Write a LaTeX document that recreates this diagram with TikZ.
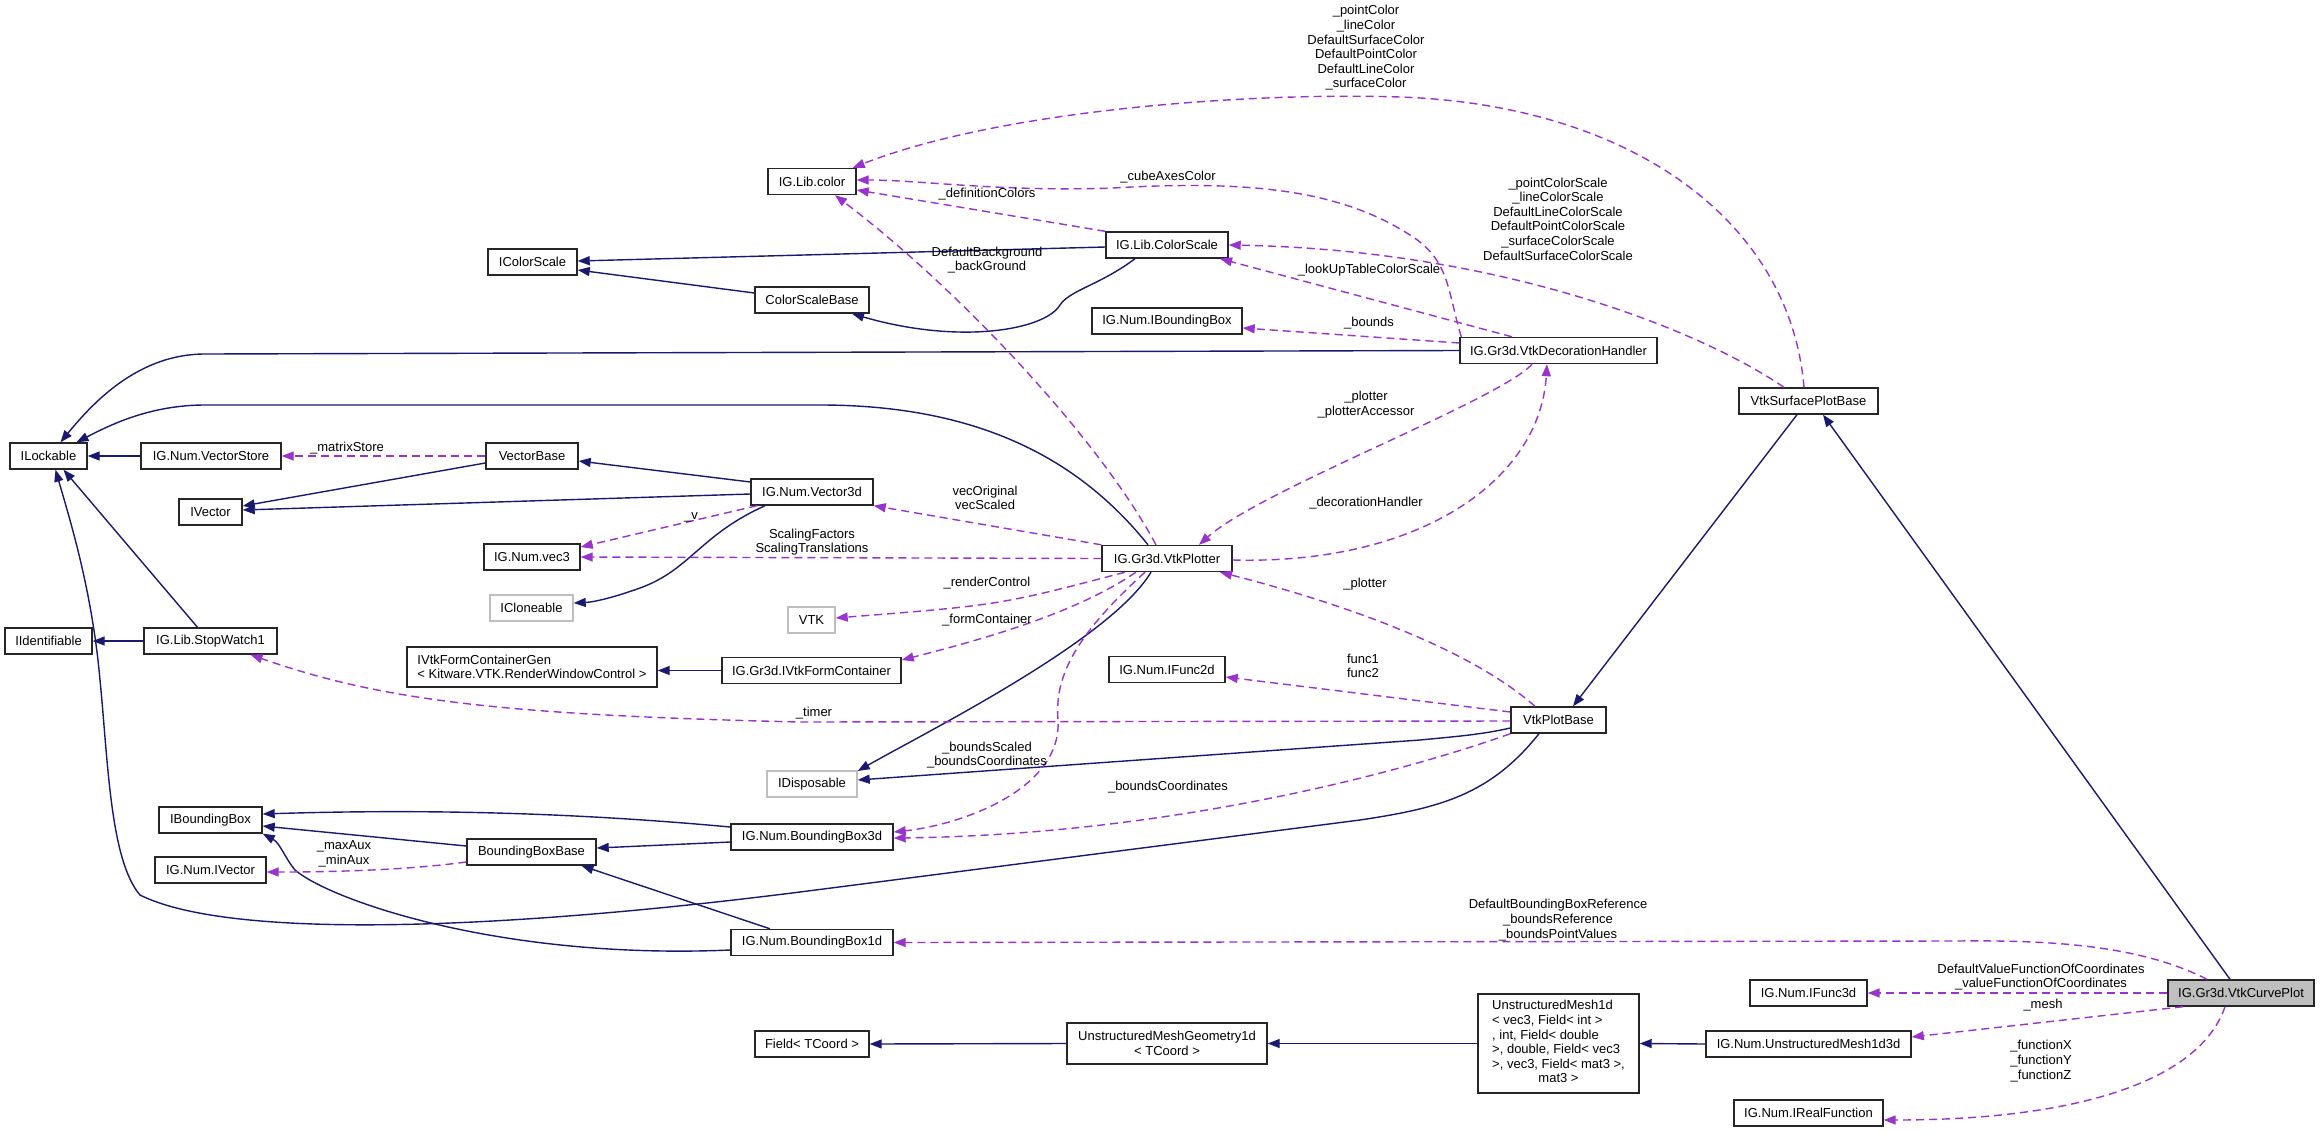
\documentclass[tikz,border=0pt]{standalone}
\usepackage{fontspec}
\setmainfont{Liberation Sans}
\usetikzlibrary{arrows.meta}
\definecolor{inhc}{HTML}{191970}
\definecolor{usec}{HTML}{9A32CD}
\definecolor{boxgray}{HTML}{BFBFBF}
\tikzset{
 cls/.style={draw=black!85, line width=1.4pt, fill=white, inner sep=0pt, minimum height=26pt, font=\fontsize{13}{14.6}\selectfont},
 ext/.style={cls, draw=boxgray},
 mainbox/.style={cls, fill=boxgray},
 inh/.style={draw=inhc, line width=1.4pt, -{Triangle[length=12pt,width=9pt]}},
 use/.style={draw=usec, line width=1.4pt, dash pattern=on 8pt off 5pt, -{Triangle[length=12pt,width=9pt]}},
 lbl/.style={font=\fontsize{13}{14.6}\selectfont, align=center, inner sep=0pt},
}
\begin{document}
\begin{tikzpicture}[x=1pt,y=-1pt]
\fill[white] (0,0) rectangle (2320,1132);
\useasboundingbox (0,0) rectangle (2320,1132);
% nodes
\node[cls, minimum width=88pt] (color) at (812,181.5) {IG.Lib.color};
\node[cls, minimum width=122pt] (cscale) at (1167,245) {IG.Lib.ColorScale};
\node[cls, minimum width=114pt] (csbase) at (812,300) {ColorScaleBase};
\node[cls, minimum width=150pt] (nibb) at (1167,321) {IG.Num.IBoundingBox};
\node[cls, minimum width=197pt] (dech) at (1558.5,350.5) {IG.Gr3d.VtkDecorationHandler};
\node[cls, minimum width=139pt] (vsurf) at (1808.5,401) {VtkSurfacePlotBase};
\node[cls, minimum width=89pt] (icscale) at (532.5,262) {IColorScale};
\node[cls, minimum width=77pt] (ilock) at (48.5,456) {ILockable};
\node[cls, minimum width=140pt] (vstore) at (211,456) {IG.Num.VectorStore};
\node[cls, minimum width=92pt] (vbase) at (532,456) {VectorBase};
\node[cls, minimum width=63pt] (ivector) at (210.5,512) {IVector};
\node[cls, minimum width=96pt] (vec3) at (532,557) {IG.Num.vec3};
\node[ext, minimum width=83pt] (iclone) at (531.5,608) {ICloneable};
\node[cls, minimum width=87pt] (iident) at (48.5,641) {IIdentifiable};
\node[cls, minimum width=133pt] (stopw) at (210.5,641) {IG.Lib.StopWatch1};
\node[cls, minimum width=250pt, minimum height=40pt, align=left] (ifcg) at (532,667) {IVtkFormContainerGen\\< Kitware.VTK.RenderWindowControl >};
\node[cls, minimum width=122pt] (vec3d) at (812,492) {IG.Num.Vector3d};
\node[cls, minimum width=130pt] (plotter) at (1167,558.5) {IG.Gr3d.VtkPlotter};
\node[ext, minimum width=47pt] (vtk) at (811.5,620) {VTK};
\node[cls, minimum width=179pt] (ifc) at (811.5,670.5) {IG.Gr3d.IVtkFormContainer};
\node[cls, minimum width=116pt] (ifunc2d) at (1167,669.5) {IG.Num.IFunc2d};
\node[cls, minimum width=95pt] (plotbase) at (1558.5,720) {VtkPlotBase};
\node[ext, minimum width=90pt] (idisp) at (812,784) {IDisposable};
\node[cls, minimum width=103pt] (ibb) at (210.5,820) {IBoundingBox};
\node[cls, minimum width=111pt] (nivec) at (210.5,870) {IG.Num.IVector};
\node[cls, minimum width=129pt] (bbbase) at (531.5,852) {BoundingBoxBase};
\node[cls, minimum width=162pt] (bb3d) at (812,837) {IG.Num.BoundingBox3d};
\node[cls, minimum width=162pt] (bb1d) at (812,942.5) {IG.Num.BoundingBox1d};
\node[cls, minimum width=114pt] (field) at (812,1044) {Field< TCoord >};
\node[cls, minimum width=200pt, minimum height=41pt, align=center] (umg) at (1167,1043.5) {UnstructuredMeshGeometry1d\\< TCoord >};
\node[cls, minimum width=161pt, minimum height=99pt] (um1d) at (1558.5,1043.5) {\begin{tabular}{@{}l@{}}UnstructuredMesh1d\\< vec3, Field< int >\\, int, Field< double\\>, double, Field< vec3\\>, vec3, Field< mat3 >,\\\multicolumn{1}{@{}c@{}}{mat3 >}\end{tabular}};
\node[cls, minimum width=205pt] (um3d) at (1808.5,1044) {IG.Num.UnstructuredMesh1d3d};
\node[cls, minimum width=117pt] (ifunc3d) at (1808.5,993) {IG.Num.IFunc3d};
\node[cls, minimum width=149pt] (ireal) at (1808.5,1113) {IG.Num.IRealFunction};
\node[mainbox, minimum width=146pt] (curve) at (2241,993) {IG.Gr3d.VtkCurvePlot};
% inheritance edges
\draw[inh] ([yshift=-2pt]cscale.west) -- ([yshift=1pt]icscale.east);
\draw[inh] ([yshift=7pt]csbase.west) -- ([yshift=-8pt]icscale.east);
\draw[inh] ([xshift=-32pt]cscale.south) .. controls (1100,285) and (1070,290) .. (1060,305) .. controls (1045,330) and (960,345) .. ([xshift=40pt]csbase.south);
\draw[inh] (dech.west) -- (205,354) .. controls (140,354) and (95,400) .. ([xshift=12pt]ilock.north);
\draw[inh] ([xshift=-19pt]plotter.north) .. controls (1080,460) and (980,405) .. (820,405) -- (205,405) .. controls (150,405) and (110,425) .. ([xshift=28pt]ilock.north);
\draw[inh] (vstore.west) -- (ilock.east);
\draw[inh] ([xshift=-13pt]stopw.north) -- ([xshift=15pt]ilock.south);
\draw[inh] ([xshift=-19.5pt]plotbase.south) .. controls (1490,795) and (1440,808) .. (1360,820) -- (800,892) .. controls (500,930) and (230,940) .. (140,895) .. controls (110,860) and (108,760) .. (100,680) .. controls (92,590) and (70,520) .. ([xshift=7pt]ilock.south);
\draw[inh] ([yshift=-7pt]vbase.west) -- ([yshift=6pt]ivector.east);
\draw[inh] ([yshift=10pt]vec3d.west) -- ([yshift=-5pt]vbase.east);
\draw[inh] ([yshift=-2pt]vec3d.west) -- ([yshift=2pt]ivector.east);
\draw[inh] ([xshift=-47pt]vec3d.south) .. controls (700,535) and (690,570) .. (640,588) .. controls (615,597) and (595,602) .. ([yshift=5pt]iclone.east);
\draw[inh] (stopw.west) -- (iident.east);
\draw[inh] (ifc.west) -- (ifc.west -| ifcg.east);
\draw[inh] ([xshift=-16pt]plotter.south) .. controls (1110,640) and (930,730) .. ([yshift=13pt]idisp.east);
\draw[inh] ([yshift=-8pt]plotbase.west) .. controls (1480,735) and (1450,737) .. (1420,740) -- ([yshift=4pt]idisp.east);
\draw[inh] ([xshift=-11.5pt]vsurf.south) -- ([xshift=14.5pt]plotbase.north);
\draw[inh] ([xshift=-11pt]curve.north) -- ([xshift=14.5pt]vsurf.south);
\draw[inh] ([yshift=10pt]bb3d.west) .. controls (600,815) and (450,808) .. ([yshift=6pt]ibb.east);
\draw[inh] ([yshift=6pt]bbbase.west) -- ([yshift=-6pt]ibb.east);
\draw[inh] ([yshift=-5pt]bb3d.west) -- ([yshift=4pt]bbbase.east);
\draw[inh] ([xshift=-42pt]bb1d.north) -- ([xshift=50pt]bbbase.south);
\draw[inh] ([yshift=-7.5pt]bb1d.west) .. controls (500,960) and (330,900) .. (295,870) .. controls (285,858) and (280,843) .. (ibb.south east);
\draw[inh] (umg.west) -- (field.east);
\draw[inh] (um1d.west) -- (umg.east);
\draw[inh] (um3d.west) -- (um1d.east);
% usage edges
\draw[use] ([xshift=-4.5pt]vsurf.north) .. controls (1790,220) and (1630,105) .. (1400,97) .. controls (1250,92) and (1000,110) .. ([xshift=-4pt]color.north east);
\draw[use] ([xshift=2pt]dech.north west) .. controls (1447,290) and (1450,260) .. (1410,235) .. controls (1340,190) and (1250,180) .. (1113,188) .. controls (1000,192) and (920,180) .. ([yshift=1.5pt]color.east);
\draw[use] (cscale.north west) -- ([yshift=-8.5pt]color.east);
\draw[use] ([xshift=-11pt]plotter.north) .. controls (1100,440) and (960,290) .. ([xshift=23pt]color.south);
\draw[use] ([xshift=-24.5pt]vsurf.north) .. controls (1700,330) and (1500,250) .. (cscale.east);
\draw[use] ([xshift=-46.5pt]dech.north) -- ([xshift=53pt]cscale.south);
\draw[use] ([yshift=7.5pt]dech.west) -- ([yshift=-7pt]nibb.east);
\draw[use] ([xshift=-26.5pt]dech.south) .. controls (1500,400) and (1260,490) .. ([xshift=32pt]plotter.north);
\draw[use] ([yshift=-1.5pt]plotter.east) .. controls (1420,565) and (1540,480) .. ([xshift=-11.5pt]dech.south);
\draw[use] (plotter.north west) -- (vec3d.south east);
\draw[use] (plotter.west) -- (vec3.east);
\draw[use] ([xshift=-55pt]vec3d.south) -- ([yshift=10pt]vec3.east);
\draw[use] ([xshift=-42pt]plotter.south) .. controls (1000,605) .. ([yshift=2pt]vtk.east);
\draw[use] ([xshift=-31pt]plotter.south) .. controls (1080,610) and (1000,635) .. ([yshift=10.5pt]ifc.east);
\draw[use] ([xshift=-22pt]plotter.south) .. controls (1070,640) and (1055,680) .. (1058,720) .. controls (1062,790) and (960,825) .. ([yshift=5pt]bb3d.east);
\draw[use] ([xshift=-23.5pt]plotbase.north) .. controls (1460,640) and (1310,595) .. ([xshift=53pt]plotter.south);
\draw[use] ([yshift=8pt]plotbase.west) -- ([yshift=-7.5pt]ifunc2d.east);
\draw[use] ([yshift=-1pt]plotbase.west) -- (800,722) .. controls (500,715) and (380,700) .. ([xshift=40pt]stopw.south);
\draw[use] (plotbase.south west) .. controls (1380,780) and (1150,835) .. ([yshift=-1pt]bb3d.east);
\draw[use] ([xshift=-34pt]curve.north) .. controls (2140,945) and (2050,940) .. (1957,941) -- (bb1d.east);
\draw[use] (curve.west) -- (ifunc3d.east);
\draw[use] ([xshift=-58pt]curve.south) -- ([yshift=7pt]um3d.east);
\draw[use] ([xshift=-16pt]curve.south) .. controls (2200,1080) and (2080,1120) .. ([yshift=-7pt]ireal.east);
\draw[use] (vbase.west) -- (vstore.east);
\draw[use] ([yshift=-10pt]bbbase.west) .. controls (400,871) and (320,872) .. ([yshift=-2pt]nivec.east);
% labels
\node[lbl] (l1) at (1366,48) {\_pointColor\\\_lineColor\\DefaultSurfaceColor\\DefaultPointColor\\DefaultLineColor\\\_surfaceColor};
\node[lbl] (l2) at (1168,177) {\_cubeAxesColor};
\node[lbl] (l3) at (987,194) {\_definitionColors};
\node[lbl] (l4) at (987,260) {DefaultBackground\\\_backGround};
\node[lbl] (l5) at (1558,219) {\_pointColorScale\\\_lineColorScale\\DefaultLineColorScale\\DefaultPointColorScale\\\_surfaceColorScale\\DefaultSurfaceColorScale};
\node[lbl] (l6) at (1369,270) {\_lookUpTableColorScale};
\node[lbl] (l7) at (1369,323) {\_bounds};
\node[lbl] (l8) at (1366,404.5) {\_plotter\\\_plotterAccessor};
\node[lbl] (l9) at (1366,503) {\_decorationHandler};
\node[lbl] (l10) at (985,498) {vecOriginal\\vecScaled};
\node[lbl] (l11) at (812,542) {ScalingFactors\\ScalingTranslations};
\node[lbl] (l12) at (691,517) {\_v};
\node[lbl] (l13) at (987,583) {\_renderControl};
\node[lbl] (l14) at (987,620) {\_formContainer};
\node[lbl] (l15) at (987,755) {\_boundsScaled\\\_boundsCoordinates};
\node[lbl] (l16) at (1365,584) {\_plotter};
\node[lbl] (l17) at (1363,666) {func1\\func2};
\node[lbl] (l18) at (814,713) {\_timer};
\node[lbl] (l19) at (1168,787) {\_boundsCoordinates};
\node[lbl] (l20) at (1558,920) {DefaultBoundingBoxReference\\\_boundsReference\\\_boundsPointValues};
\node[lbl] (l21) at (2041,977) {DefaultValueFunctionOfCoordinates\\\_valueFunctionOfCoordinates};
\node[lbl] (l22) at (2043,1005) {\_mesh};
\node[lbl] (l23) at (2041,1061) {\_functionX\\\_functionY\\\_functionZ};
\node[lbl] (l24) at (347,448) {\_matrixStore};
\node[lbl] (l25) at (344,854) {\_maxAux\\\_minAux};
\end{tikzpicture}
\end{document}
